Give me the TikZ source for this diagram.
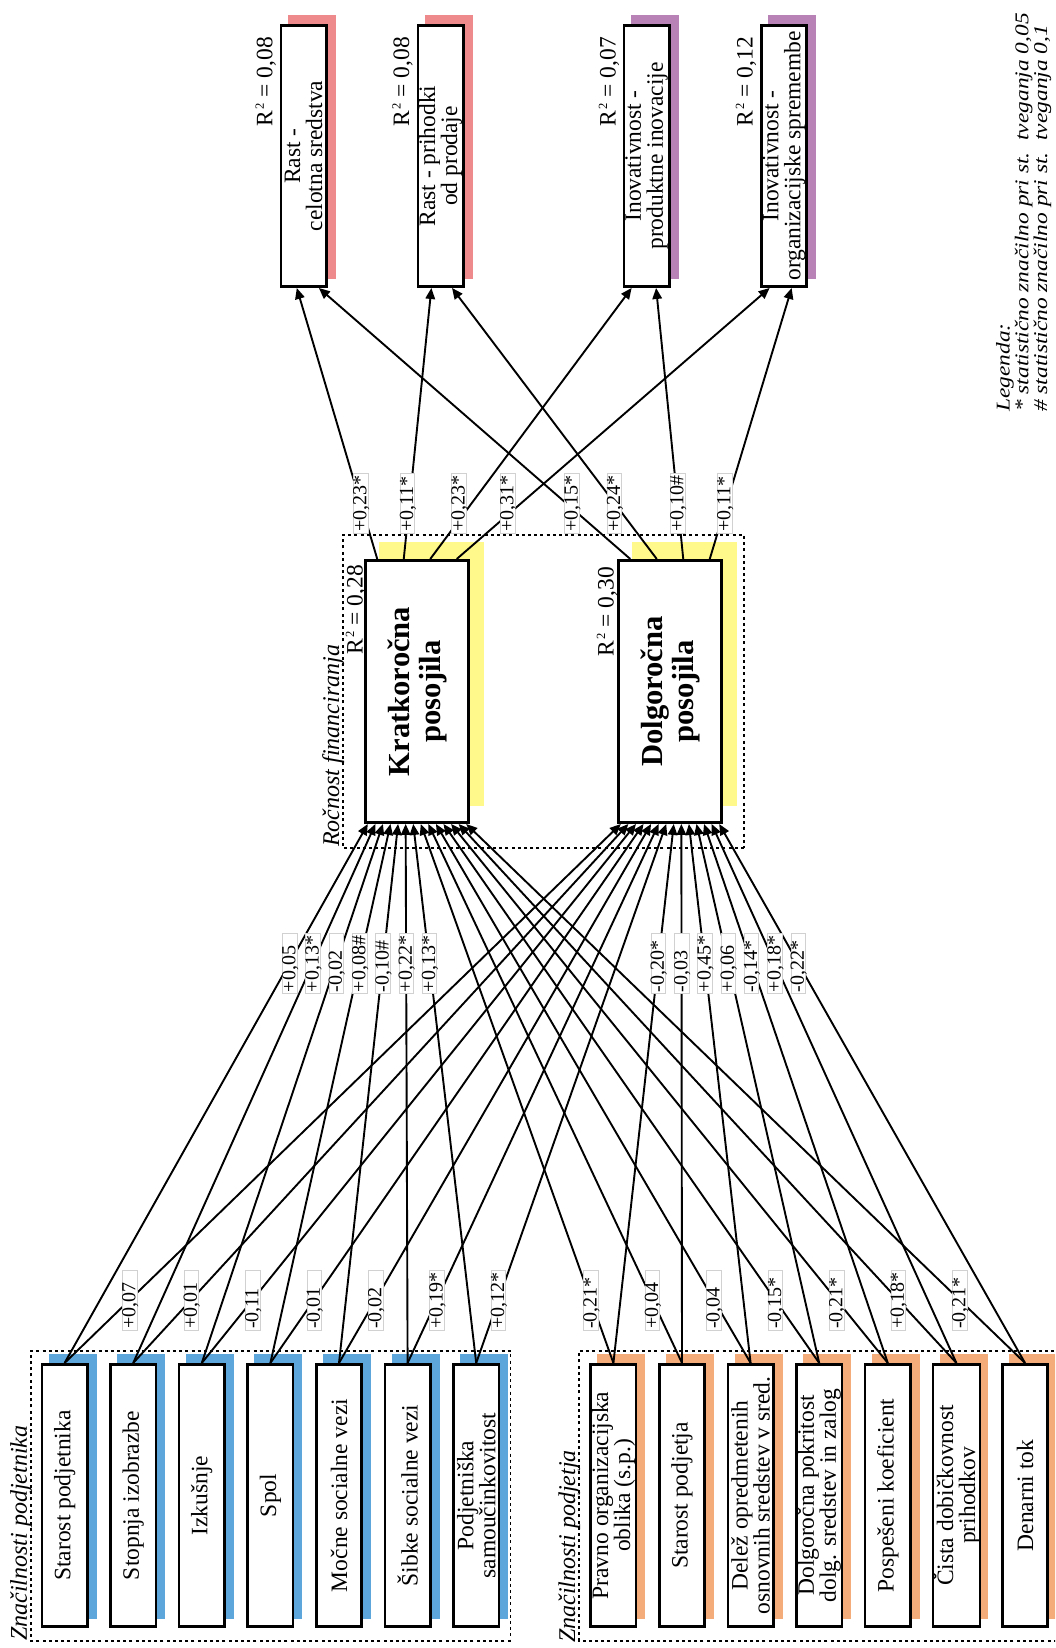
\documentclass[tikz,border=0pt]{standalone}
\usepackage{fontspec}
\setmainfont{Liberation Serif}
\usetikzlibrary{arrows.meta,calc}

\definecolor{entblue}{HTML}{5DA6DC}
\definecolor{firmorange}{HTML}{F3AC7A}
\definecolor{matyellow}{HTML}{FFF98C}
\definecolor{growpink}{HTML}{EE8A8C}
\definecolor{innovpurple}{HTML}{B882B6}

\newcommand{\rsquared}{R\kern1.5pt\raisebox{8.5pt}{\fontsize{12.5}{12.5}\selectfont 2}}

\tikzset{
  varbox/.style={draw, line width=2.6pt, fill=white, minimum width=262.4pt, minimum height=45.4pt,
    inner sep=0pt, align=center, font=\fontsize{23.5}{22}\selectfont},
  varshadow/.style={minimum width=265pt, minimum height=48pt, inner sep=0pt},
  loanbox/.style={draw, line width=2.6pt, fill=white, minimum width=262.4pt, minimum height=103.4pt,
    inner sep=0pt, align=center, font=\fontsize{30.6}{31}\selectfont\bfseries},
  loanshadow/.style={fill=matyellow, minimum width=264pt, minimum height=105pt, inner sep=0pt},
  link/.style={line width=1.9pt, -{Triangle[length=11pt,width=9.5pt]}},
  coef/.style={fill=white, draw=black!18, line width=0.5pt, inner xsep=1pt, inner ysep=0.5pt,
    text width=58pt, align=left, font=\fontsize{20}{20}\selectfont, text height=12.5pt, text depth=1pt},
  group/.style={line width=1.3pt, dash pattern=on 3pt off 3.2pt},
  grouptitle/.style={font=\fontsize{24}{24}\selectfont\itshape, inner sep=0pt, anchor=base west},
  rsq/.style={font=\fontsize{23.5}{24}\selectfont, inner sep=0pt, anchor=base east},
}

\begin{document}
\begin{tikzpicture}[x=1pt,y=1pt]
\useasboundingbox (0,0) rectangle (1055,1648);
\clip (0,0) rectangle (1055,1648);
\fill[white] (0,0) rectangle (1055,1648);

% the whole model is laid out left to right and turned a quarter turn
\begin{scope}[shift={(1055,0)},rotate=90,transform shape]

% group frames
\draw[group] (7,544.5) rectangle (297,1024);
\draw[group] (7,-8) rectangle (297,476);
\draw[group] (800,311) rectangle (1113,712);

\node[grouptitle] (tEnt) at (7,1028) {Značilnosti podjetnika};
\node[grouptitle] (tFirm) at (5,480) {Značilnosti podjetja};
\node[grouptitle] (tMat) at (801,716) {Ročnost financiranja};

% entrepreneur characteristics
\foreach \i/\txt in {1/{Starost podjetnika},2/{Stopnja izobrazbe},3/{Izkušnje},4/{Spol},
    5/{Močne socialne vezi},6/{Šibke socialne vezi},7/{Podjetniška\\samoučinkovitost}}{
  \pgfmathsetmacro\yy{990.4-68.6*(\i-1)}
  \node[varshadow,fill=entblue] (Ps\i) at (161.5,\yy-8) {};
  \node[varbox] (P\i) at (152.5,\yy) {\txt};
}

% firm characteristics
\foreach \i/\txt in {1/{Pravno organizacijska\\oblika (s.p.)},2/{Starost podjetja},
    3/{Delež opredmetenih\\osnovnih sredstev v sred.},4/{Dolgoročna pokritost\\dolg. sredstev in zalog},
    5/{Pospešeni koeficient},6/{Čista dobičkovnost\\prihodkov},7/{Denarni tok}}{
  \pgfmathsetmacro\yy{441.6-68.6*(\i-1)}
  \node[varshadow,fill=firmorange] (Cs\i) at (161.5,\yy-8) {};
  \node[varbox] (C\i) at (152.5,\yy) {\txt};
}

% loan maturity
\node[loanshadow] (Ks) at (974,623.5) {};
\node[loanbox] (K) at (956.5,638) {Kratkoročna\\posojila};
\node[loanshadow] (Ds) at (974,370.5) {};
\node[loanbox] (D) at (956.5,385) {Dolgoročna\\posojila};

% outcomes
\foreach \k/\yy/\col/\txt in {1/751.5/growpink/{Rast -\\celotna sredstva},2/614.5/growpink/{Rast - prihodki\\od prodaje},
    3/408.5/innovpurple/{Inovativnost -\\produktne inovacije},4/271/innovpurple/{Inovativnost -\\organizacijske spremembe}}{
  \node[varshadow,fill=\col,minimum width=264pt] (Os\k) at (1501,\yy-8) {};
  \node[varbox,minimum width=261.4pt] (O\k) at (1492,\yy) {\txt};
}

% explained variance
\node[rsq] (rK) at (1083,692.5) {\rsquared{} = 0,28};
\node[rsq] (rD) at (1081,441.5) {\rsquared{} = 0,30};
\node[rsq] (r1) at (1611,782.7) {\rsquared{} = 0,08};
\node[rsq] (r2) at (1611,645.8) {\rsquared{} = 0,08};
\node[rsq] (r3) at (1611,439.5) {\rsquared{} = 0,07};
\node[rsq] (r4) at (1611,302.5) {\rsquared{} = 0,12};

% characteristics -> loans
\foreach \i in {1,...,7}{
  \pgfmathsetmacro\fa{(\i-0.5)/14}
  \pgfmathsetmacro\fb{(\i+6.5)/14}
  \draw[link] (P\i.east) -- ($(K.north west)!\fa!(K.south west)$);
  \draw[link] (P\i.east) -- ($(D.north west)!\fa!(D.south west)$);
  \draw[link] (C\i.east) -- ($(K.north west)!\fb!(K.south west)$);
  \draw[link] (C\i.east) -- ($(D.north west)!\fb!(D.south west)$);
}

% loans -> outcomes
\foreach \k/\tk/\td in {1/0.36/0.82,2/0.31/0.74,3/0.19/0.70,4/0.20/0.66}{
  \pgfmathsetmacro\s{(2*\k-1)/8}
  \draw[link] ($(K.north east)!\s!(K.south east)$) -- ($(O\k.north west)!\tk!(O\k.south west)$);
  \draw[link] ($(D.north east)!\s!(D.south east)$) -- ($(O\k.north west)!\td!(O\k.south west)$);
}

% path coefficients
\foreach \i/\pk/\pd/\ck/\cd in {1/{+0,05}/{+0,07}/{-0,21*}/{-0,20*},2/{+0,13*}/{+0,01}/{+0,04}/{-0,03},
    3/{-0,02}/{-0,11}/{-0,04}/{+0,45*},4/{+0,08\#}/{-0,01}/{-0,15*}/{+0,06},
    5/{-0,10\#}/{-0,02}/{-0,21*}/{-0,14*},6/{+0,22*}/{+0,19*}/{+0,18*}/{+0,18*},
    7/{+0,13*}/{+0,12*}/{-0,21*}/{-0,22*}}{
  \pgfmathsetmacro\fa{(\i-0.5)/14}
  \pgfmathsetmacro\fb{(\i+6.5)/14}
  \path (P\i.east) -- ($(K.north west)!\fa!(K.south west)$) node[coef,pos=0.742] (cPK\i) {\pk};
  \path (P\i.east) -- ($(D.north west)!\fa!(D.south west)$) node[coef,pos=0.117] (cPD\i) {\pd};
  \path (C\i.east) -- ($(K.north west)!\fb!(K.south west)$) node[coef,pos=0.117] (cCK\i) {\ck};
  \path (C\i.east) -- ($(D.north west)!\fb!(D.south west)$) node[coef,pos=0.742] (cCD\i) {\cd};
}
\foreach \k/\tk/\td/\lk/\ld/\sk/\sd in {1/0.36/0.82/{+0,23*}/{+0,15*}/0/-6,2/0.31/0.74/{+0,11*}/{+0,24*}/2/0,
    3/0.19/0.70/{+0,23*}/{+0,10\#}/13/0,4/0.20/0.66/{+0,31*}/{+0,11*}/14/2}{
  \pgfmathsetmacro\s{(2*\k-1)/8}
  \path ($(K.north east)!\s!(K.south east)$) -- ($(O\k.north west)!\tk!(O\k.south west)$)
    node[coef,pos=0.207,yshift=\sk pt] (cKO\k) {\lk};
  \path ($(D.north east)!\s!(D.south east)$) -- ($(O\k.north west)!\td!(O\k.south west)$)
    node[coef,pos=0.207,yshift=\sd pt] (cDO\k) {\ld};
}

% legend
\node[anchor=north west, inner sep=0pt, align=left, xscale=1.2,
      font=\fontsize{19.5}{17.5}\selectfont\itshape] (legend) at (1236,59)
  {Legenda:\\* statistično značilno pri st.\ \ tveganja 0,05\\\# statistično značilno pri st.\ \ tveganja 0,1};

\end{scope}
\end{tikzpicture}
\end{document}
